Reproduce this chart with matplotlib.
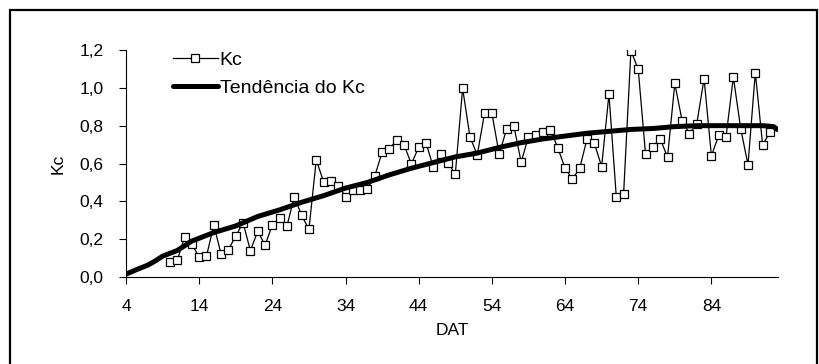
import matplotlib.pyplot as plt
from matplotlib.patches import Rectangle

plt.rcParams['font.family'] = ['Liberation Sans', 'DejaVu Sans']

# Kc observado por dia (DAT 10 a 92)
dat = list(range(10, 93))
kc = [0.078, 0.088, 0.21, 0.175, 0.104, 0.11, 0.275, 0.12, 0.145, 0.217,
      0.287, 0.139, 0.242, 0.168, 0.275, 0.31, 0.27, 0.425, 0.326, 0.252,
      0.619, 0.504, 0.51, 0.483, 0.425, 0.46, 0.46, 0.467, 0.534, 0.66,
      0.676, 0.725, 0.698, 0.598, 0.686, 0.709, 0.58, 0.652, 0.605, 0.543,
      0.998, 0.742, 0.645, 0.866, 0.866, 0.649, 0.781, 0.80, 0.607, 0.742,
      0.75, 0.769, 0.778, 0.684, 0.575, 0.517, 0.575, 0.729, 0.707, 0.584,
      0.967, 0.425, 0.44, 1.197, 1.097, 0.649, 0.686, 0.732, 0.633, 1.023,
      0.825, 0.758, 0.81, 1.049, 0.64, 0.749, 0.742, 1.057, 0.785, 0.593,
      1.081, 0.698, 0.766]

# Tendencia do Kc
trend_dat = [4, 5.5, 7, 8, 9, 11, 13, 16, 19, 22, 25, 28, 31, 34, 37, 40, 43,
             46, 49, 52, 55, 58, 61, 64, 67, 70, 73, 76, 79, 82, 85, 88, 91,
             92.5, 93]
trend_kc = [0.015, 0.04, 0.063, 0.085, 0.11, 0.14, 0.19, 0.235, 0.27, 0.32,
            0.355, 0.395, 0.43, 0.47, 0.50, 0.54, 0.575, 0.605, 0.635, 0.655,
            0.685, 0.71, 0.73, 0.745, 0.76, 0.77, 0.78, 0.785, 0.795, 0.80,
            0.80, 0.80, 0.80, 0.795, 0.78]

xticks = [4, 14, 24, 34, 44, 54, 64, 74, 84]
yticks = [0.0, 0.2, 0.4, 0.6, 0.8, 1.0, 1.2]
ytick_labels = ["0,0", "0,2", "0,4", "0,6", "0,8", "1,0", "1,2"]

fig = plt.figure(figsize=(8.2, 3.64), dpi=100)
ax = fig.add_axes([126 / 820, 87 / 364, 652 / 820, 227 / 364])

ax.plot(dat, kc, color="black", lw=0.9, marker="s", markersize=6,
        markerfacecolor="white", markeredgecolor="black", markeredgewidth=0.9,
        label="Kc", zorder=3)
ax.plot(trend_dat, trend_kc, color="black", lw=3.6, solid_capstyle="round",
        label="Tendência do Kc", zorder=4)

ax.set_xlim(4, 93.1)
ax.set_ylim(0, 1.2)
ax.set_xticks(xticks)
ax.set_yticks(yticks)
ax.set_yticklabels(ytick_labels)
ax.tick_params(direction="out", length=5, width=0.8, pad=11, labelsize=12.5)
for s in ["top", "right"]:
    ax.spines[s].set_visible(False)
for s in ["left", "bottom"]:
    ax.spines[s].set_linewidth(0.8)

ax.set_xlabel("DAT", fontsize=12.5, labelpad=6)
ax.set_ylabel("Kc", fontsize=12.5)
ax.yaxis.set_label_coords(-0.093, 0.5)

ax.legend(loc="upper left", bbox_to_anchor=(173 / 820, 1 - 51 / 364),
          bbox_transform=fig.transFigure, frameon=False, fontsize=14,
          handlelength=2.3, handletextpad=0.1, labelspacing=0.55,
          borderpad=0, borderaxespad=0)

# moldura externa
fig.patches.append(Rectangle((10 / 820, -0.05), 807 / 820, 1.05 - 10 / 364,
                             transform=fig.transFigure, fill=False,
                             edgecolor="black", lw=1.6))

plt.savefig("out.png", dpi=100)
